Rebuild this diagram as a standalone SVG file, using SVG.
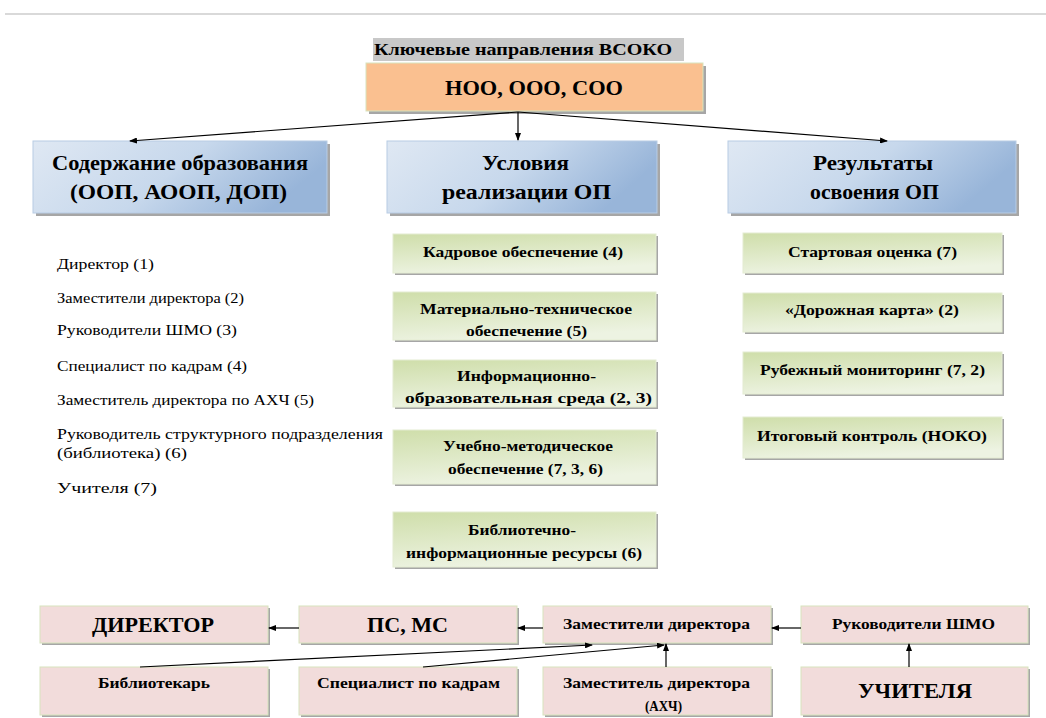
<svg xmlns="http://www.w3.org/2000/svg" width="1046" height="718" viewBox="0 0 1046 718">
<defs>
<linearGradient id="gBlue" x1="0" y1="0" x2="1" y2="0.3">
<stop offset="0" stop-color="#dfe8f3"/>
<stop offset="0.55" stop-color="#c7d8ec"/>
<stop offset="1" stop-color="#98b5d9"/>
</linearGradient>
<linearGradient id="gGreen" x1="0" y1="0" x2="0.3" y2="1">
<stop offset="0" stop-color="#cfdeaa"/>
<stop offset="1" stop-color="#edf3e2"/>
</linearGradient>
<marker id="ah" markerWidth="8" markerHeight="6" refX="7" refY="3" orient="auto" markerUnits="userSpaceOnUse">
<path d="M0,0 L8,3 L0,6 Z" fill="#000"/>
</marker>
<clipPath id="c2"><rect x="393" y="292" width="263" height="48"/></clipPath>
<clipPath id="c3"><rect x="393" y="360" width="263" height="47"/></clipPath>
<clipPath id="c9"><rect x="543" y="667" width="228" height="48"/></clipPath>
</defs>
<style>
.sh{fill:#a6a6a6}
.blue{fill:url(#gBlue);stroke:#b8cce4;stroke-width:1}
.green{fill:url(#gGreen);stroke:#e4ecd2;stroke-width:1}
.pink{fill:#f2dcdb;stroke:#d7e4bd;stroke-width:1}
.orange{fill:#fac090;stroke:#d7e4bd;stroke-width:1}
.tb{font-weight:bold;text-anchor:middle}
.t21{font-size:21px}
.t22{font-size:22px}
.t15{font-size:15px}
.list{font-size:15px}
.conn{stroke:#000;stroke-width:1.2;fill:none;marker-end:url(#ah)}
</style>
<rect width="1046" height="718" fill="#fff"/>
<line x1="5" y1="14" x2="1046" y2="14" stroke="#d9d9d9" stroke-width="2"/>
<g font-family="Liberation Serif, Times New Roman, DejaVu Serif, serif" fill="#000">
<g id="title">
<rect x="373" y="38" width="311" height="23" fill="#c8c8c8"/>
<text x="374" y="55" font-weight="bold" font-size="17" textLength="298" lengthAdjust="spacingAndGlyphs">Ключевые направления ВСОКО</text>
</g>

<g id="levels">
<rect x="369" y="66" width="337" height="48" class="sh"/>
<rect x="366" y="63" width="337" height="48" class="orange"/>
<text x="534" y="95" class="tb t22" textLength="178" lengthAdjust="spacingAndGlyphs">НОО, ООО, СОО</text>
</g>

<g id="content">
<rect x="36" y="144" width="294" height="72" class="sh"/>
<rect x="33" y="141" width="294" height="72" class="blue"/>
<text x="180" y="170" class="tb t21" textLength="256" lengthAdjust="spacingAndGlyphs">Содержание образования</text>
<text x="178.5" y="199" class="tb t21" textLength="217" lengthAdjust="spacingAndGlyphs">(ООП, АООП, ДОП)</text>
</g>

<g id="conditions">
<rect x="390" y="144" width="270" height="72" class="sh"/>
<rect x="387" y="141" width="270" height="72" class="blue"/>
<text x="525.5" y="170" class="tb t21" textLength="87" lengthAdjust="spacingAndGlyphs">Условия</text>
<text x="526.5" y="199" class="tb t21" textLength="169" lengthAdjust="spacingAndGlyphs">реализации ОП</text>
</g>

<g id="results">
<rect x="731" y="144" width="288" height="72" class="sh"/>
<rect x="728" y="141" width="288" height="72" class="blue"/>
<text x="873" y="170" class="tb t21" textLength="120" lengthAdjust="spacingAndGlyphs">Результаты</text>
<text x="874.5" y="199" class="tb t21" textLength="129" lengthAdjust="spacingAndGlyphs">освоения ОП</text>
</g>

<g id="roles-list">
<text x="57" y="269" class="list" textLength="97" lengthAdjust="spacingAndGlyphs">Директор (1)</text>
<text x="57" y="303" class="list" textLength="187" lengthAdjust="spacingAndGlyphs">Заместители директора (2)</text>
<text x="57" y="335" class="list" textLength="180" lengthAdjust="spacingAndGlyphs">Руководители ШМО (3)</text>
<text x="57" y="371" class="list" textLength="190" lengthAdjust="spacingAndGlyphs">Специалист по кадрам (4)</text>
<text x="57" y="405" class="list" textLength="257" lengthAdjust="spacingAndGlyphs">Заместитель директора по АХЧ (5)</text>
<text x="57" y="439" class="list" textLength="326" lengthAdjust="spacingAndGlyphs">Руководитель структурного подразделения</text>
<text x="57" y="458" class="list" textLength="130" lengthAdjust="spacingAndGlyphs">(библиотека) (6)</text>
<text x="57" y="493" class="list" textLength="100" lengthAdjust="spacingAndGlyphs">Учителя (7)</text>
</g>

<g id="c-kadry">
<rect x="395" y="236" width="263" height="39" class="sh"/>
<rect x="393" y="234" width="263" height="39" class="green"/>
<text x="523" y="257" class="tb t15" textLength="200" lengthAdjust="spacingAndGlyphs">Кадровое обеспечение (4)</text>
</g>
<g id="c-mto">
<rect x="395" y="294" width="263" height="48" class="sh"/>
<rect x="393" y="292" width="263" height="48" class="green"/>
<g clip-path="url(#c2)">
<text x="526" y="314" class="tb t15" textLength="212" lengthAdjust="spacingAndGlyphs">Материально-техническое</text>
<text x="526.5" y="336" class="tb t15" textLength="121" lengthAdjust="spacingAndGlyphs">обеспечение (5)</text>
</g>
</g>
<g id="c-ios">
<rect x="395" y="362" width="263" height="47" class="sh"/>
<rect x="393" y="360" width="263" height="47" class="green"/>
<g clip-path="url(#c3)">
<text x="526.5" y="381" class="tb t15" textLength="139" lengthAdjust="spacingAndGlyphs">Информационно-</text>
<text x="528.5" y="403" class="tb t15" textLength="247" lengthAdjust="spacingAndGlyphs">образовательная среда (2, 3)</text>
</g>
</g>
<g id="c-umo">
<rect x="395" y="432" width="263" height="54" class="sh"/>
<rect x="393" y="430" width="263" height="54" class="green"/>
<text x="528" y="451" class="tb t15" textLength="170" lengthAdjust="spacingAndGlyphs">Учебно-методическое</text>
<text x="525.5" y="474" class="tb t15" textLength="155" lengthAdjust="spacingAndGlyphs">обеспечение (7, 3, 6)</text>
</g>
<g id="c-bir">
<rect x="395" y="514" width="263" height="55" class="sh"/>
<rect x="393" y="512" width="263" height="55" class="green"/>
<text x="522" y="535" class="tb t15" textLength="108" lengthAdjust="spacingAndGlyphs">Библиотечно-</text>
<text x="524" y="558" class="tb t15" textLength="236" lengthAdjust="spacingAndGlyphs">информационные ресурсы (6)</text>
</g>

<g id="r-start">
<rect x="745" y="235" width="259" height="40" class="sh"/>
<rect x="743" y="233" width="259" height="40" class="green"/>
<text x="872.5" y="257" class="tb t15" textLength="169" lengthAdjust="spacingAndGlyphs">Стартовая оценка (7)</text>
</g>
<g id="r-map">
<rect x="745" y="295" width="259" height="39" class="sh"/>
<rect x="743" y="293" width="259" height="39" class="green"/>
<text x="872" y="315" class="tb t15" textLength="174" lengthAdjust="spacingAndGlyphs">«Дорожная карта» (2)</text>
</g>
<g id="r-monitor">
<rect x="745" y="354" width="259" height="42" class="sh"/>
<rect x="743" y="352" width="259" height="42" class="green"/>
<text x="872.5" y="375" class="tb t15" textLength="225" lengthAdjust="spacingAndGlyphs">Рубежный мониторинг (7, 2)</text>
</g>
<g id="r-final">
<rect x="745" y="419" width="259" height="41" class="sh"/>
<rect x="743" y="417" width="259" height="41" class="green"/>
<text x="872" y="441" class="tb t15" textLength="230" lengthAdjust="spacingAndGlyphs">Итоговый контроль (НОКО)</text>
</g>

<g id="b-director">
<rect x="42" y="608" width="228" height="37" class="sh"/>
<rect x="40" y="606" width="228" height="37" class="pink"/>
<text x="153" y="632" class="tb t22" textLength="122" lengthAdjust="spacingAndGlyphs">ДИРЕКТОР</text>
</g>
<g id="b-psms">
<rect x="301" y="608" width="218" height="37" class="sh"/>
<rect x="299" y="606" width="218" height="37" class="pink"/>
<text x="407.5" y="632" class="tb t22" textLength="81" lengthAdjust="spacingAndGlyphs">ПС, МС</text>
</g>
<g id="b-deputies">
<rect x="545" y="608" width="228" height="37" class="sh"/>
<rect x="543" y="606" width="228" height="37" class="pink"/>
<text x="656.5" y="629" class="tb t15" textLength="187" lengthAdjust="spacingAndGlyphs">Заместители директора</text>
</g>
<g id="b-shmo">
<rect x="803" y="608" width="227" height="37" class="sh"/>
<rect x="801" y="606" width="227" height="37" class="pink"/>
<text x="913.5" y="629" class="tb t15" textLength="163" lengthAdjust="spacingAndGlyphs">Руководители ШМО</text>
</g>
<g id="b-librarian">
<rect x="42" y="669" width="228" height="48" class="sh"/>
<rect x="40" y="667" width="228" height="48" class="pink"/>
<text x="154" y="688" class="tb t15" textLength="112" lengthAdjust="spacingAndGlyphs">Библиотекарь</text>
</g>
<g id="b-hr">
<rect x="301" y="669" width="218" height="48" class="sh"/>
<rect x="299" y="667" width="218" height="48" class="pink"/>
<text x="408.5" y="688" class="tb t15" textLength="183" lengthAdjust="spacingAndGlyphs">Специалист по кадрам</text>
</g>
<g id="b-ahch">
<rect x="545" y="669" width="228" height="48" class="sh"/>
<rect x="543" y="667" width="228" height="48" class="pink"/>
<g clip-path="url(#c9)">
<text x="656.5" y="688" class="tb t15" textLength="187" lengthAdjust="spacingAndGlyphs">Заместитель директора</text>
<text x="663.5" y="711" class="tb t15" textLength="37" lengthAdjust="spacingAndGlyphs">(АХЧ)</text>
</g>
</g>
<g id="b-teachers">
<rect x="803" y="669" width="227" height="48" class="sh"/>
<rect x="801" y="667" width="227" height="48" class="pink"/>
<text x="915" y="698" class="tb t22" textLength="114" lengthAdjust="spacingAndGlyphs">УЧИТЕЛЯ</text>
</g>
</g>
<g id="connectors">
<path d="M518,112 L130,141" class="conn"/>
<path d="M518,112 L518,140" class="conn"/>
<path d="M518,112 L887,141" class="conn"/>
<path d="M299,628 L269,628" class="conn"/>
<path d="M543,628 L518,628" class="conn"/>
<path d="M801,628 L772,628" class="conn"/>
<path d="M909,667 L909,644" class="conn"/>
<path d="M666,667 L666,644" class="conn"/>
<path d="M140,667 L592,645" class="conn"/>
<path d="M423,667 L664,645" class="conn"/>
</g>
</svg>
